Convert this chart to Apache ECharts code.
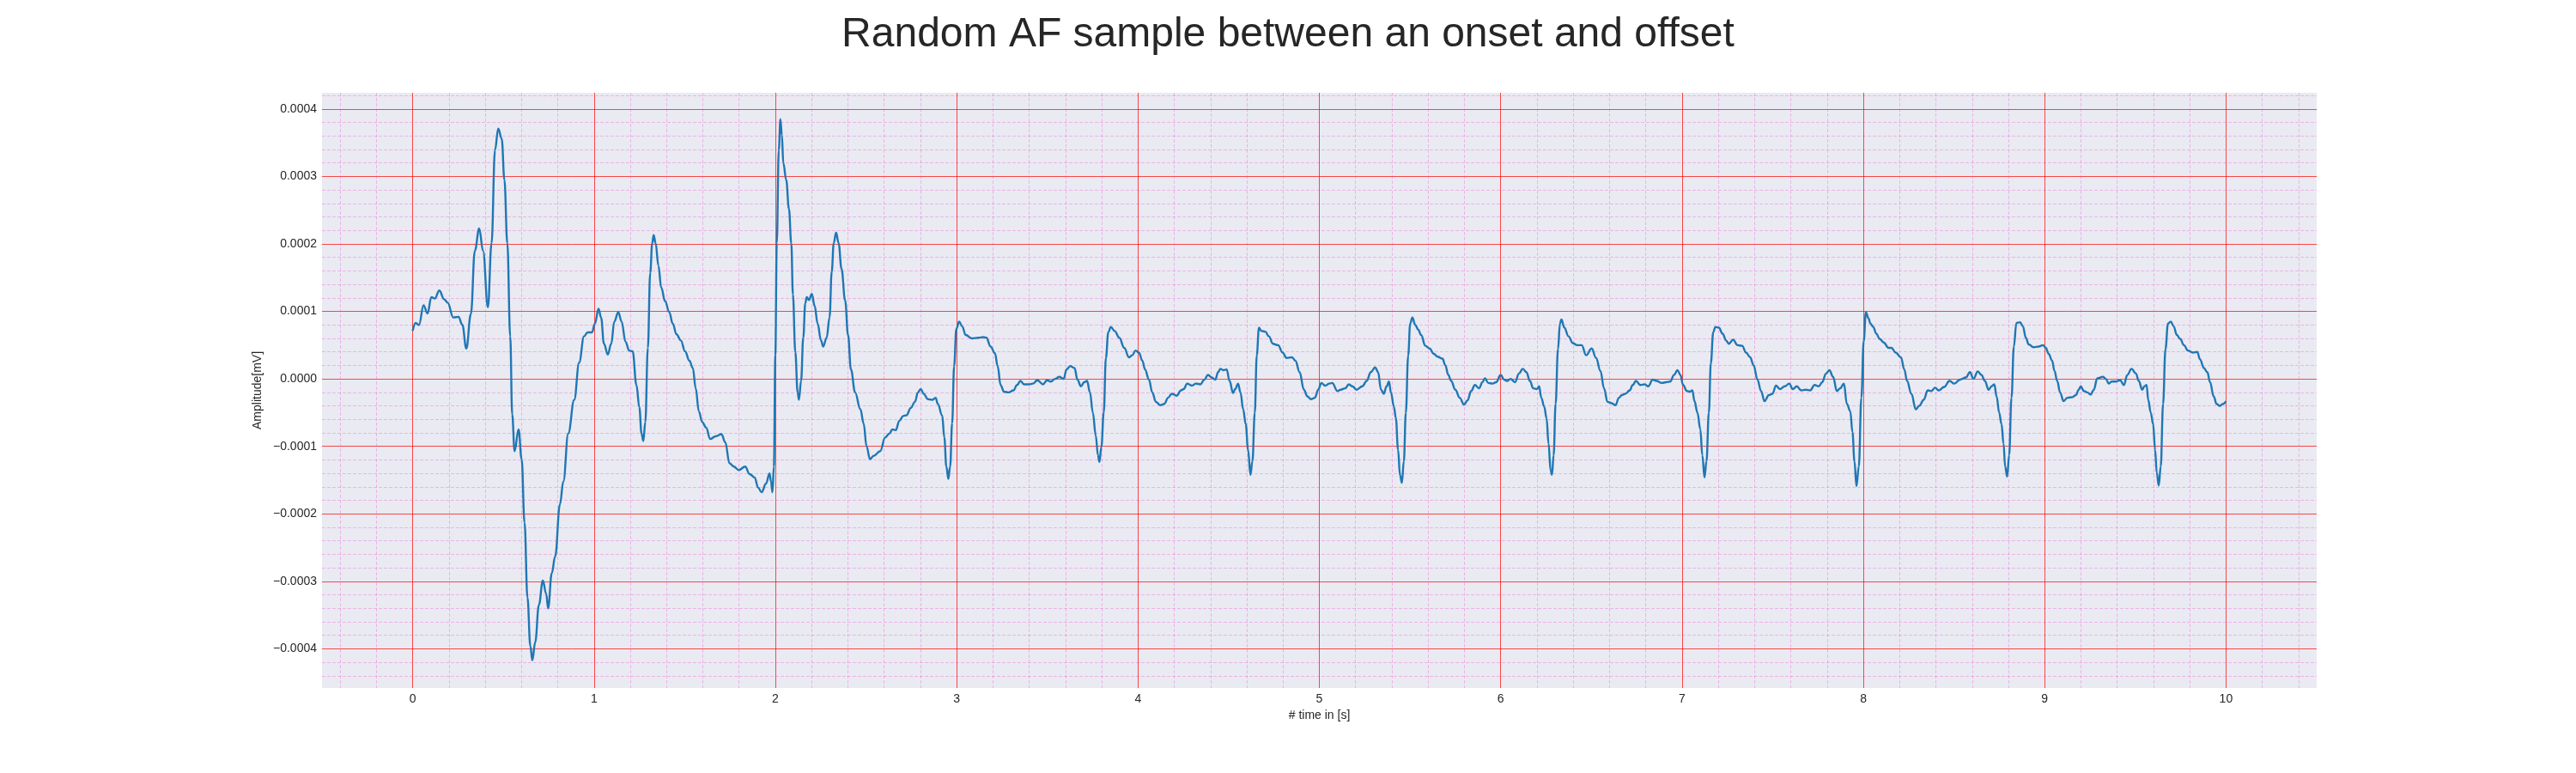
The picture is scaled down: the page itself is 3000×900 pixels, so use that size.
<!DOCTYPE html>
<html>
<head>
<meta charset="utf-8">
<script src="https://cdn.jsdelivr.net/npm/echarts@6/dist/echarts.min.js"></script>
<style>
  html, body { margin: 0; padding: 0; background: #ffffff; }
  #chart { width: 3000px; height: 900px; }
</style>
</head>
<body>
<div id="chart"></div>
<script>
// time [s], amplitude in units of 1e-4 mV
var beat0 = [[0.000,0.71],[0.016,0.83],[0.035,0.80],[0.060,1.09],[0.082,0.97],[0.103,1.21],[0.122,1.19],[0.147,1.31],[0.174,1.18],[0.193,1.13],[0.224,0.91],[0.253,0.92],[0.274,0.80],[0.296,0.45],[0.321,0.96],[0.343,1.90],[0.367,2.23],[0.388,1.90],[0.415,1.06],[0.435,2.01],[0.454,3.39],[0.472,3.71],[0.491,3.56],[0.506,2.95],[0.522,2.01],[0.538,0.63],[0.549,-0.53],[0.562,-1.07],[0.584,-0.75],[0.601,-1.19],[0.617,-2.13],[0.633,-3.24],[0.649,-3.96],[0.660,-4.17],[0.676,-3.90],[0.696,-3.35],[0.718,-2.99],[0.736,-3.18],[0.747,-3.40],[0.767,-2.88],[0.786,-2.63],[0.812,-1.86],[0.831,-1.52],[0.858,-0.81],[0.891,-0.31],[0.918,0.24],[0.945,0.63],[0.965,0.69],[0.989,0.69]];
var beat1 = [[1.005,0.82],[1.025,1.04],[1.039,0.91],[1.055,0.52],[1.076,0.36],[1.095,0.52],[1.112,0.85],[1.134,0.99],[1.152,0.85],[1.174,0.55],[1.194,0.42],[1.213,0.41],[1.234,-0.09],[1.250,-0.42],[1.262,-0.81],[1.272,-0.92],[1.283,-0.64],[1.297,0.46],[1.310,1.57],[1.321,2.01],[1.329,2.13],[1.340,2.01],[1.355,1.68],[1.371,1.35],[1.392,1.15],[1.415,0.99],[1.434,0.82],[1.455,0.66],[1.479,0.57],[1.502,0.41],[1.526,0.27],[1.545,0.16],[1.561,-0.14],[1.578,-0.48],[1.597,-0.64],[1.618,-0.72],[1.641,-0.89],[1.671,-0.85],[1.703,-0.82],[1.724,-0.94],[1.747,-1.25],[1.771,-1.30],[1.798,-1.35],[1.834,-1.30],[1.858,-1.41],[1.886,-1.46],[1.905,-1.61],[1.924,-1.68],[1.949,-1.55],[1.968,-1.40],[1.976,-1.52],[1.984,-1.68],[1.992,-1.30],[2.000,0.35],[2.008,2.01],[2.019,3.39],[2.028,3.85]];
var beat2 = [[2.036,3.61],[2.044,3.20],[2.060,2.95],[2.075,2.52],[2.088,2.01],[2.097,1.25],[2.110,0.40],[2.123,-0.20],[2.130,-0.31],[2.142,-0.03],[2.154,0.61],[2.165,1.12],[2.173,1.21],[2.186,1.17],[2.201,1.26],[2.217,1.08],[2.233,0.82],[2.252,0.57],[2.264,0.48],[2.283,0.61],[2.299,0.91],[2.311,1.59],[2.322,2.01],[2.335,2.17],[2.349,2.01],[2.365,1.63],[2.385,1.16],[2.401,0.65],[2.417,0.14],[2.440,-0.20],[2.469,-0.45],[2.487,-0.66],[2.503,-1.00],[2.522,-1.19],[2.542,-1.14],[2.579,-1.07],[2.605,-0.87],[2.629,-0.81],[2.645,-0.75],[2.664,-0.76],[2.684,-0.62],[2.705,-0.55],[2.723,-0.54],[2.747,-0.43],[2.770,-0.34],[2.786,-0.20],[2.802,-0.15],[2.818,-0.22],[2.841,-0.30],[2.865,-0.31],[2.884,-0.28],[2.896,-0.37],[2.920,-0.54],[2.932,-0.87],[2.943,-1.30],[2.954,-1.48],[2.964,-1.30],[2.975,-0.66],[2.986,0.19],[2.998,0.74],[3.014,0.85],[3.030,0.78],[3.050,0.65],[3.085,0.60],[3.119,0.61],[3.148,0.62],[3.164,0.61],[3.187,0.48],[3.211,0.38],[3.226,0.19],[3.242,-0.09],[3.261,-0.19],[3.286,-0.20],[3.313,-0.17],[3.333,-0.09],[3.352,-0.03],[3.371,-0.08],[3.399,-0.08]];
var beat3 = [[3.420,-0.07],[3.445,-0.02],[3.476,-0.08],[3.498,-0.02],[3.519,-0.04],[3.543,0.00],[3.566,0.03],[3.590,0.00],[3.606,0.14],[3.626,0.19],[3.650,0.16],[3.666,-0.01],[3.685,-0.11],[3.703,-0.05],[3.719,-0.03],[3.735,-0.20],[3.751,-0.50],[3.767,-0.84],[3.779,-1.13],[3.787,-1.23],[3.798,-1.01],[3.811,-0.50],[3.823,0.31],[3.836,0.69],[3.850,0.77],[3.871,0.71],[3.897,0.61],[3.924,0.46],[3.950,0.32],[3.968,0.35],[3.987,0.42],[4.005,0.39],[4.024,0.27],[4.039,0.14],[4.060,-0.01],[4.079,-0.20],[4.098,-0.34],[4.123,-0.39],[4.145,-0.37],[4.166,-0.28],[4.186,-0.22],[4.213,-0.25],[4.237,-0.17],[4.252,-0.15],[4.271,-0.07],[4.297,-0.10],[4.319,-0.07],[4.344,-0.08],[4.366,-0.01],[4.386,0.06],[4.407,0.02],[4.426,-0.01],[4.442,0.10],[4.454,0.15],[4.470,0.13],[4.489,0.14],[4.505,-0.03],[4.524,-0.21],[4.536,-0.15],[4.552,-0.07],[4.565,-0.20],[4.580,-0.45],[4.594,-0.67],[4.607,-1.05],[4.620,-1.42],[4.631,-1.22],[4.644,-0.50],[4.655,0.35],[4.667,0.76],[4.681,0.71],[4.702,0.70],[4.722,0.63],[4.744,0.52],[4.773,0.50],[4.797,0.39],[4.820,0.31],[4.849,0.32],[4.868,0.27],[4.891,0.10],[4.915,-0.16],[4.934,-0.26],[4.954,-0.30],[4.975,-0.28],[4.994,-0.16]];
var beat4 = [[5.011,-0.06],[5.032,-0.10],[5.055,-0.07],[5.071,-0.06],[5.100,-0.18],[5.118,-0.16],[5.142,-0.14],[5.163,-0.08],[5.182,-0.11],[5.205,-0.16],[5.237,-0.11],[5.261,-0.03],[5.284,0.10],[5.308,0.17],[5.324,0.10],[5.340,-0.16],[5.355,-0.22],[5.371,-0.11],[5.384,-0.04],[5.395,-0.20],[5.411,-0.41],[5.422,-0.58],[5.434,-1.05],[5.445,-1.43],[5.455,-1.54],[5.466,-1.22],[5.477,-0.50],[5.490,0.35],[5.501,0.82],[5.513,0.91],[5.529,0.80],[5.545,0.73],[5.561,0.65],[5.585,0.49],[5.608,0.45],[5.632,0.37],[5.652,0.33],[5.679,0.30],[5.695,0.20],[5.711,0.06],[5.727,-0.03],[5.750,-0.16],[5.774,-0.28],[5.798,-0.38],[5.817,-0.32],[5.837,-0.18],[5.858,-0.09],[5.880,-0.14],[5.900,-0.05],[5.913,0.01],[5.932,-0.06],[5.956,-0.07],[5.975,-0.05],[6.000,0.06],[6.019,-0.01],[6.035,-0.03],[6.054,0.00],[6.079,-0.05],[6.101,0.08],[6.122,0.15],[6.142,0.10],[6.161,-0.03],[6.180,-0.14],[6.201,-0.15],[6.212,-0.11],[6.224,-0.28],[6.240,-0.41],[6.253,-0.58],[6.264,-0.96],[6.275,-1.35],[6.283,-1.42],[6.292,-1.13],[6.303,-0.37],[6.316,0.44],[6.327,0.82],[6.335,0.88],[6.351,0.76],[6.374,0.63],[6.398,0.53],[6.422,0.50]];
var beat5 = [[6.447,0.50],[6.471,0.35],[6.502,0.45],[6.526,0.31],[6.550,0.12],[6.570,-0.14],[6.589,-0.34],[6.613,-0.36],[6.633,-0.39],[6.652,-0.28],[6.668,-0.24],[6.687,-0.22],[6.712,-0.17],[6.728,-0.09],[6.746,-0.03],[6.770,-0.09],[6.794,-0.08],[6.814,-0.11],[6.838,-0.01],[6.860,-0.03],[6.888,-0.06],[6.912,-0.05],[6.935,-0.04],[6.956,0.06],[6.975,0.13],[6.991,0.06],[7.006,-0.09],[7.027,-0.18],[7.043,-0.19],[7.057,-0.17],[7.069,-0.33],[7.085,-0.50],[7.101,-0.75],[7.112,-1.13],[7.124,-1.46],[7.135,-1.22],[7.148,-0.50],[7.159,0.23],[7.172,0.69],[7.184,0.77],[7.203,0.76],[7.224,0.67],[7.243,0.57],[7.258,0.52],[7.282,0.58],[7.306,0.50],[7.332,0.49],[7.353,0.39],[7.376,0.32],[7.395,0.20],[7.416,-0.01],[7.436,-0.18],[7.455,-0.33],[7.479,-0.24],[7.499,-0.22],[7.518,-0.10],[7.540,-0.15],[7.567,-0.11],[7.591,-0.07],[7.611,-0.15],[7.633,-0.11],[7.657,-0.17],[7.683,-0.16],[7.707,-0.17],[7.731,-0.09],[7.754,-0.11],[7.773,-0.05],[7.794,0.08],[7.813,0.13],[7.833,0.03],[7.854,-0.18],[7.872,-0.14],[7.893,-0.07],[7.909,-0.37],[7.928,-0.48],[7.940,-0.79],[7.951,-1.22],[7.962,-1.59]];
var beat6 = [[7.975,-1.30],[7.989,-0.28],[8.002,0.56],[8.014,0.99],[8.028,0.90],[8.039,0.82],[8.055,0.77],[8.071,0.67],[8.091,0.59],[8.112,0.54],[8.139,0.46],[8.155,0.46],[8.178,0.39],[8.207,0.32],[8.226,0.14],[8.241,-0.03],[8.265,-0.22],[8.289,-0.45],[8.308,-0.40],[8.333,-0.31],[8.355,-0.17],[8.375,-0.18],[8.396,-0.13],[8.415,-0.17],[8.446,-0.12],[8.475,-0.03],[8.502,-0.07],[8.533,-0.01],[8.565,0.02],[8.588,0.10],[8.607,0.00],[8.631,0.11],[8.651,0.06],[8.670,-0.03],[8.691,-0.16],[8.707,-0.11],[8.722,-0.08],[8.735,-0.26],[8.749,-0.50],[8.762,-0.67],[8.773,-0.96],[8.782,-1.30],[8.793,-1.45],[8.804,-1.13],[8.817,-0.28],[8.830,0.48],[8.844,0.83],[8.864,0.84],[8.880,0.78],[8.896,0.61],[8.912,0.51],[8.938,0.47],[8.967,0.48],[8.991,0.50],[9.006,0.46],[9.022,0.37],[9.041,0.27],[9.054,0.12],[9.069,-0.03],[9.085,-0.20],[9.104,-0.33],[9.125,-0.28],[9.153,-0.27],[9.172,-0.24],[9.188,-0.16],[9.199,-0.11],[9.216,-0.18],[9.235,-0.20],[9.254,-0.23],[9.271,-0.16],[9.290,0.01],[9.322,0.03],[9.338,0.00],[9.353,-0.07],[9.369,-0.04],[9.390,-0.04],[9.416,-0.02],[9.437,-0.09],[9.456,0.06],[9.479,0.15],[9.503,0.08],[9.519,-0.03],[9.538,-0.16],[9.550,-0.11],[9.562,-0.09],[9.571,-0.31],[9.585,-0.50],[9.598,-0.67],[9.609,-1.05],[9.618,-1.39],[9.629,-1.58],[9.640,-1.30],[9.653,-0.37],[9.666,0.44],[9.680,0.82],[9.696,0.85],[9.711,0.78],[9.729,0.65],[9.748,0.59],[9.768,0.50],[9.790,0.42],[9.817,0.39],[9.841,0.40],[9.857,0.29],[9.878,0.16],[9.897,0.10],[9.912,-0.05],[9.932,-0.26],[9.948,-0.37],[9.965,-0.40],[9.984,-0.37],[10.000,-0.33]];

var xTickLabels = ['0','1','2','3','4','5','6','7','8','9','10'];
var yTickLabels = ['\u22120.0004','\u22120.0003','\u22120.0002','\u22120.0001','0.0000','0.0001','0.0002','0.0003','0.0004'];

var signal = beat0.concat(beat1, beat2, beat3, beat4, beat5, beat6);

var textColor = '#262626';
var fontFamily = 'Liberation Sans, Arial, sans-serif';
var majorRed = 'rgba(255,0,0,0.7)';
var minorPink = 'rgba(240,60,200,0.3)';
var none = 'rgba(0,0,0,0)';

// x ticks every 0.1 s starting at -0.5 : phase 5 = whole second, phases 1,3,7,9 = 0.2 s minors
var xMajor = [], xMinor = [];
for (var i = 0; i < 10; i++) {
    xMajor.push(i === 5 ? majorRed : none);
    xMinor.push(i % 2 === 1 && i !== 5 ? minorPink : none);
}
// y ticks every 0.02 (x1e-4) starting at -4.58 : phase 29 = major, 9/19/39/49 = minors
var yMajor = [], yMinor = [];
for (var j = 0; j < 50; j++) {
    yMajor.push(j === 29 ? majorRed : none);
    yMinor.push((j % 10 === 9 && j !== 29) ? minorPink : none);
}

function nearInt(v) { return Math.abs(v - Math.round(v)) < 1e-6; }

var chart = echarts.init(document.getElementById('chart'));

var option = {
    animation: false,
    backgroundColor: '#ffffff',
    title: {
        text: 'Random AF sample between an onset and offset',
        left: 'center',
        top: 12,
        textStyle: { fontFamily: fontFamily, fontSize: 48, fontWeight: 'normal', color: textColor }
    },
    grid: {
        left: 375, right: 302, top: 108, bottom: 99,
        show: true, backgroundColor: '#EAEAF2', borderWidth: 0
    },
    xAxis: [
        {
            type: 'value', min: -0.5, max: 10.5, interval: 0.1, position: 'top',
            axisLine: { show: false }, axisTick: { show: false }, axisLabel: { show: false },
            splitLine: { show: true, lineStyle: { color: xMinor, width: 1, type: [4, 2] } }
        },
        {
            type: 'value', min: -0.5, max: 10.5, interval: 0.1, position: 'bottom',
            name: '# time in [s]', nameLocation: 'middle', nameGap: 24,
            nameTextStyle: { fontFamily: fontFamily, fontSize: 14, color: textColor },
            axisLine: { show: false }, axisTick: { show: false },
            axisLabel: {
                margin: 6, fontFamily: fontFamily, fontSize: 14, color: textColor,
                formatter: function (v) {
                    if (!nearInt(v)) return '';
                    var k = xTickLabels.indexOf(String(Math.round(v)));
                    return k < 0 ? '' : xTickLabels[k];
                }
            },
            splitLine: { show: true, lineStyle: { color: xMajor, width: 1 } }
        }
    ],
    yAxis: [
        {
            type: 'value', min: -4.58, max: 4.24, interval: 0.02, position: 'right',
            axisLine: { show: false }, axisTick: { show: false }, axisLabel: { show: false },
            splitLine: { show: true, lineStyle: { color: yMinor, width: 1, type: [4, 2] } }
        },
        {
            type: 'value', min: -4.58, max: 4.24, interval: 0.02, position: 'left',
            name: 'Amplitude[mV]', nameLocation: 'middle', nameGap: 57, nameRotate: 90,
            nameTextStyle: { fontFamily: fontFamily, fontSize: 14, color: textColor },
            axisLine: { show: false }, axisTick: { show: false },
            axisLabel: {
                margin: 6, fontFamily: fontFamily, fontSize: 14, color: textColor,
                formatter: function (v) {
                    if (!nearInt(v)) return '';
                    var k = Math.round(v) + 4;
                    return (k >= 0 && k < yTickLabels.length) ? yTickLabels[k] : '';
                }
            },
            splitLine: { show: true, lineStyle: { color: yMajor, width: 1 } }
        }
    ],
    series: [
        {
            type: 'line',
            xAxisIndex: 1,
            yAxisIndex: 1,
            data: signal,
            showSymbol: false,
            smooth: 0.4,
            smoothMonotone: 'x',
            lineStyle: { color: '#1f77b4', width: 2.4 },
            z: 5
        }
    ]
};

chart.setOption(option);
</script>
</body>
</html>
